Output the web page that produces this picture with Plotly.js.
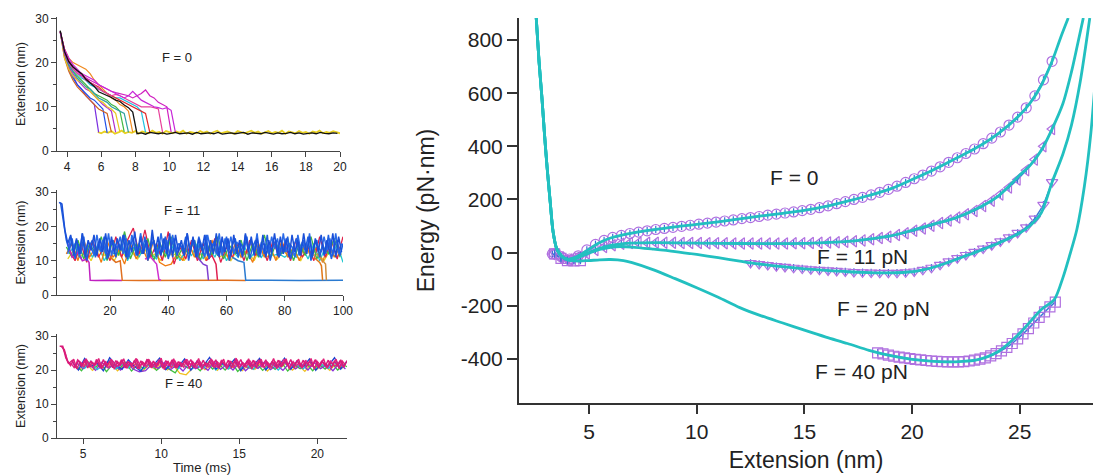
<!DOCTYPE html>
<html><head><meta charset="utf-8">
<script src="https://cdn.plot.ly/plotly-3.0.1.min.js"></script>
<style>html,body{margin:0;padding:0;background:#fff}#chart{width:1093px;height:476px}</style>
</head><body><div id="chart"></div>
<script>
// ---------- helpers (sampling times only) ----------
const seq = (a, d, n) => Array.from({length: n}, (_, i) => Math.round((a + i * d) * 1000) / 1000);

// ---------- Panel A: F = 0 trajectories (t in ms, extension in nm) ----------
const a_black = [27.2,22.5,20.2,19,18.2,17.5,16.2,15.3,14.6,13.4,13,12.6,12.1,11.5,11.2,10.4,9.8,8.8,4.1];
const a_blackBase = [3.9,4.1,3.8,4.2,4.0,3.9,4.1,3.8,4.0,4.2,3.9,4.0,4.1,3.8,4.2,3.9,4.0,4.1,3.9,4.2,3.8,4.0,4.1,3.9,4.0,4.2,3.8,4.1,4.0,3.9,4.2,4.0,3.8,4.1,3.9,4.0,4.2,3.9,4.1,3.8,4.0,4.1,3.9,4.2,4.0,3.9,4.1,4.0];
const a_yellowBase = [4.3,4.0,4.4,4.1,4.5,3.9,4.2,4.6,4.0,4.3,4.1,4.5,3.9,4.4,4.2,4.0,4.6,4.1,4.3,3.9,4.5,4.2,4.0,4.4,4.1,4.6,3.9,4.3,4.2,4.0,4.5,4.1,4.4,3.9,4.3,4.6,4.0,4.2,4.4,4.1,3.9,4.5,4.2,4.0,4.3,4.6,4.1,4.4,3.9,4.2,4.5,4.0,4.3,4.1,4.6,3.9,4.4,4.2,4.0,4.5,4.1,4.3,3.9,4.4,4.2,4.6,4.0,4.3,4.1,4.5,4.2,4.0];
const a_traces = [
  {c:'#7a2ee0', y:[26.8,22,19,17,15,14,12.5,11.5,10.5,4.2]},
  {c:'#2050e8', y:[27,22,18.5,16.5,15,14,13,12,11.5,10.5,9.5,4.1]},
  {c:'#b030d0', y:[27,21.5,19,17.5,16,15,14,13.5,12.5,11.5,10.5,9.8,9,4.2]},
  {c:'#d06020', y:[27,21,18,16,14.5,13.5,12.5,11.5,10.5,9.5,9,8.5,4.2]},
  {c:'#e8c820', y:[27,21,18.5,17,16,15.5,14.5,13.5,12.5,11.5,11,10,9.5,8.5,4.2]},
  {c:'#40b840', y:[27,22,19.5,18,17,16,15,14,13,12.5,12,11.5,10.5,10,9,4.3]},
  {c:'#30a0a0', y:[27,22,19.5,18,16.5,15.5,14.5,14,13,12,11.5,11,10,9.5,9,8.5,4.2]},
  {c:'#f08a20', y:[27,23,21,20,19.5,19,18.5,17.5,16,15,14,13,12,11.5,10.5,10,9,4.2]},
  {c:'#20c0e0', y:[27,22.5,20,18.5,17.5,16.5,16,15,14.5,14,13.5,13,12.5,12,12,11.5,11,10.5,10,9,4.2]},
  {c:'#e02828', y:[27,23,20.5,19,18,17.5,16.5,15.5,15,14.5,13.5,13,12.5,12,11.5,11,10.5,10,9.5,9,8.5,4.2]},
  {c:'#e8409a', y:[27,22.5,20,18.5,17.5,17,16,15.5,15,14,13.5,13,12.5,12.8,12.5,12,11.5,11,10.5,10,10,10,9.8,9.5,4.2]},
  {c:'#d020c0', y:[27,22,20,19,18,17,16.5,16,15.5,15,14.5,14,13.5,13.2,13,12.8,12.5,12,12.5,13,13.8,12.5,12,11,10.5,10,4.3]},
  {c:'#c828d8', y:[27,23,21,19.5,18.5,17.5,17,16.5,16,15,14.5,14,13.5,13,12.5,12,12.5,13.5,12.5,11.5,11,10.5,10,9.8,9.5,9.8,9.2,4.2]}
];

// ---------- Panel B: F = 11 trajectories ----------
const b_blue1 = [27,26.5,19,15,
17.5,11.5,16.5,12,18,11,16,13,17.5,11.5,
16.5,12.5,18,11,17,12,16.5,13,17.5,11,
16,12.5,18.5,11.5,17,12,16,11,19,12.5,
17,11.5,16.5,12,18,11,17.5,12.5,16,11.5,
18,12,17,11,16.5,13,17.5,11.5,16,12,
18,11,17,12.5,16.5,11.5,17.5,12,16,11,
18,12.5,17,11.5,16.5,12,17.5,11,16,12.5,
18,11.5,17,12,16.5,11,17.5,12.5,16,11.5,
18,12,17,11,16.5,12.5,17.5,11.5,16,12,
18,11,17,12.5];
const b_blue2 = [27,22,16,
13,16.5,10.5,15,12,17,10,14.5,16,11,
15.5,12.5,17,10.5,14,16,11,15,13,17.5,
10.5,14.5,16.5,11.5,15,12,17,10,14,16,
11,15.5,12.5,17,10.5,14,16.5,11.5,15,13,
17,10,14.5,16,11,15.5,12,17.5,10.5,14,
16,11.5,15,12.5,17,10,14.5,16.5,11,15,
13,17,10.5,14,16,11.5,15.5,12,17.5,10,
14.5,16,11,15,12.5,17,10.5,14,16.5,11.5,
15.5,13,17,10,14.5,16,11,15,12,17.5,
10.5,14,16,11.5,15];
const b_blue3 = [12,17,13.5,16,11,18,12.5,15.5,14,11.5,
17.5,13,16,12,18,11.5,15,13.5,17,12,
16.5,11,17.5,14,12.5,18,13,15.5,11.5,17,
14.5,12,18,13,16,11.5,17.5,12.5,15,14,
11.5,18,13,16.5,12,17,14,11,17.5,13.5,
15,12,18,11.5,16.5,13,17,12,15.5,14,
11.5,17.5,13,16,12.5,18,11,15,14.5,12,
17,13.5,16.5,11.5,18,12.5,15,14,11,17.5,
13,16,12,18,11.5,15.5,14,12.5,17,13,
16.5,11.5,18,12,15];
const b_green = [14,11,16,10.5,15,12,17,10,16,11.5,18.5,10.5,15,12,16.5,10,15.5,11,17,10.5,14,12,16,10,15.5,11.5,17,10.5,14.5,12,16,10,15,11,17.5,10.5,15,12,16.5,10,15,11.5,17,10.5,14,12,16.5,11];
const b_red = [13,10,15,9.5,16,11,14,10,17,11,16,19.5,12,19,11,15,10,18.5,9,14,10.5,16,10,15,11,16.5,9.5,14,11,15,10,16,11.5,14.5,10,16,11,15,10,16.5,11,14,10,17,11,16,10.5,17];
const b_orange = [12,15,10,16,11,14,9.5,16,11,13,9,15,10.5,14,10,16,9.5,8.5,9,12,10,15,11,14,10,16,11.5,14,10,15,11,13,9.5,15,11,14,10,16,11,14,10,15,11,14,9.5,15,11,14];
const b_cyan = [12,15,10.5,14,11,15,10,13,11.5,15,10,14,11,15,12,10.5,14,11,15,10,13,11.5,15,10.5,14,11,15,10,13,11,14.5,10.5,13,11,14,11.5,12,11,12.5,11,14,10.5,15,10,14,11,15,9.5];
const b_yellow = [10.5,13,11,12.5,10,14,11.5,12,10,13.5,11,12.5,10.5,14,11,12,10,13,11.5,12.5,10,14,11,12,10.5,13.5,11,12,10,13,11.5,12.5,10,14,11,12,10.5,13,11,12,10,13.5,11.5,12,10,13,11,12];
const b_drops = [
  {c:'#c020c0', x:[5.5,7,9,10.5,12,12.8,13.2,15,20,24.2], y:[15,11,12.5,10,10.5,9.5,4.3,4.2,4.3,4.2]},
  {c:'#e07020', x:[20,22,23.5,24.2,30,40,50,60,66.6], y:[11,9.5,10,4.3,4.2,4.3,4.2,4.3,4.2]},
  {c:'#d030d0', x:[32,34,36,36.8,37.5], y:[10.5,11,9,4.5,4.3]},
  {c:'#8040d0', x:[50,52,53.3,53.8], y:[11,9,8.5,4.3]},
  {c:'#e02050', x:[53,55,56.4,56.9], y:[10,11.5,9,4.3]},
  {c:'#2a7ad0', x:[62,64,66,66.6,75,85,100], y:[11,10,9.5,4.3,4.3,4.2,4.3]},
  {c:'#e07818', x:[90,92,92.6,93], y:[11,9.5,8.5,4.3]},
  {c:'#d09040', x:[91,93,94,94.3], y:[12,10,9,4.3]}
];

// ---------- Panel C: F = 40 trajectories ----------
const c_mag1 = [27,27,23.5,22,22.8,20.8,22.9,21,23,20.6,22.7,21.2,22.9,20.5,23.1,21,22.6,20.7,22.8,21.3,23,20.6,22.5,21,22.9,20.4,22.7,21.1,23.2,20.8,22.6,21,22.9,20.5,22.8,21.2,23,20.7,22.5,20.9,22.8,21.3,23.1,20.6,22.7,21,22.9,20.8,22.6,21.2,23,20.5,22.8,21.1,22.9,20.7,22.6,21.3,23.1,20.8,22.7,21,22.9,20.6,22.8,21.2,23,20.7,22.5,21,22.9,20.9,22.7,21.2,23.1,20.6,22.8,21,22.9,20.8,22.6,21.3,23,20.7,22.8,21.1,22.9,20.6,22.7,21.2,23,20.8,22.8];
const c_mag2 = [27,26,22.5,21.3,23.2,20.3,22.4,21.6,23.3,20.9,22.2,21.5,23.4,20.4,22.3,21.7,23.2,20.2,22.5,21.4,23.3,20.5,22.1,21.8,23.4,20.3,22.4,21.6,23.2,20.6,22.2,21.5,23.5,20.1,22.6,21.4,23.3,20.5,22.3,21.7,23.2,20.4,22.5,21.5,23.4,20.2,22.1,21.8,23.3,20.6,22.4,21.4,23.2,20.3,22.6,21.6,23.5,20.5,22.2,21.5,23.3,20.2,22.5,21.7,23.2,20.6,22.3,21.4,23.4,20.4,22.6,21.5,23.3,20.3,22.2,21.8,23.2,20.5,22.4,21.6,23.4,20.2,22.5,21.4,23.3,20.6,22.3,21.7,23.2,20.4,22.6,21.5];
const c_mag3 = [27,25,22,21.8,20.6,23,21.9,20.9,22.7,21.4,
20.7,23.1,21.8,21,22.6,20.5,22.9,21.6,21.1,23,
20.8,22.4,21.9,20.6,23.2,21.3,22.1,20.9,22.8,21.5,
20.7,23,21.8,21.2,22.5,20.6,22.9,21.4,21.9,20.8,
23.1,21.6,22.2,20.5,22.7,21.3,21.9,20.9,23,21.5,
20.7,22.8,21.7,21.1,22.6,20.6,23.1,21.4,22,20.9,
22.9,21.6,21.2,23,20.8,22.3,21.8,20.6,22.7,21.5,
21,23.2,21.7,20.9,22.5,21.3,22.1,20.7,22.9,21.6,
21.1,23,20.8,22.4,21.9,20.6,22.8,21.4,21.2,22.7,
20.9];
const c_blue = [22.5,20,23.4,21,22,19.8,23.6,21.5,20.2,23,21,19.6,22.8,21.4,23.5,20.1,22.2,21,23.3,19.9,22.6,21.2,23.7,20.3,22,21,23.2,19.8,22.5,21.3,23.4,20,22.3,21.1,23.5,20.2,22.7,21,23.3,19.9,22.4,21.2,23.6,20.3,22.6];
const c_green = [21.5,19.8,22.5,20.5,22,19.5,21.8,20.3,22.3,19.7,21.6,20.4,22.1,19.9,21.4,20.2,19.2,22,20.6,21.5,19.8,22.2,20.3,21.7,20,22.4,19.6,21.3,20.5,22,19.9,21.6,20.2,22.3,19.7,21.5,20.4,22,19.8,21.7,20.3,22.2,20,21.4,20.6];
const c_yellow = [21,20.2,22,19.9,21.5,20.5,22.2,19.8,21.3,20.6,22,19.7,21.4,20.3,21.9,20,21.2,19,18.6,20.5,21.8,20.1,21.5,19.9,22,20.4,21.3,19.8,21.7,20.2,22.1,19.7,21.4,20.5,21.9,20,21.3,19.6,21.8,20.3,21.5,19.9,22,20.4];
const c_purple = [22,20.4,21.6,19.9,22.3,20.6,21.4,20,22.1,20.3,19.5,19.8,21.7,20.5,22.2,20.1,21.5,19.7,22,20.4,21.3,19.9,22.4,20.2,21.6,20,22.1,19.8,21.5,20.5,22.3,20.1,21.4,19.9,22,20.3,21.7,20,22.2,20.4,21.5,19.8,22,20.3];
const c_cyan = [21.8,20.5,22.6,20.1,21.4,22.9,20.3,21.7,20.6,22.4,20,21.5,20.8,22.2,20.2,21.6,20.4,22.7,20.1,21.3,20.6,22.5,20,21.8,20.3,22.3,20.5,21.4,20.2,22.6,20.4,21.7,20,22.1,20.6,21.5,20.3,22.4,20.1,21.6,20.5,22.2,20.2];

// ---------- Panel D: energy landscapes (extension nm, energy pN·nm) ----------
const fit0X  = [2.55,2.68,2.82,2.93,3.05,3.2,3.33,3.5,3.75,4.0,4.3,4.7,5.1,5.5,6,7.1,8,9,10,11,12,13,14,15,16,17,18,19,20,21,22,23,24,25,25.5,26,26.5,26.9,27.25];
const fit0Y  = [883,720,577,450,325,190,80,15,-15,-25,-20,-3,18,38,55,75,86,97,106,116,127,138,148,159,174,194,215,240,275,312,353,395,448,518,565,630,720,810,883];
const fit11X = [2.55,2.68,2.82,2.93,3.05,3.2,3.33,3.5,3.75,4.0,4.3,4.7,5.1,5.5,6,6.7,7.5,9,11,13,15,16,17,18,19,20,21,22,23,24,25,25.5,26,26.5,27,27.4,27.7,27.95];
const fit11Y = [883,720,577,450,325,190,80,15,-15,-25,-24,-10,4,16,27,35,37,37,35,34,35,38,42,51,63,84,107,130,165,213,292,330,385,465,560,680,790,883];
const fit20X = [2.55,2.68,2.82,2.93,3.05,3.2,3.33,3.5,3.75,4.0,4.5,5,5.5,6,6.5,7,8,9,10,11,12,12.5,13.3,14.1,15,16,17,18,19,20,20.5,21,21.5,22,22.5,23,24,25,25.5,26,26.5,27,27.4,27.8,28.25];
const fit20Y = [883,720,577,450,325,190,80,15,-15,-25,-18,-2,12,20,23,21,13,4,-7,-19,-32,-39,-47,-54,-61,-67,-72,-75,-76,-72,-65,-55,-42,-27,-12,3,35,74,103,150,265,370,480,640,883];
const fit40X = [2.55,2.68,2.82,2.93,3.05,3.2,3.33,3.5,3.75,4.0,4.5,5,5.5,6,6.6,7,8,9,10,11,12,13,14,15,16,17,18,19,20,21,22,23,24,25,26,26.6,27,27.3,27.65,28,28.3,28.6];
const fit40Y = [883,720,577,450,325,190,80,15,-15,-28,-32,-30,-27,-26,-30,-38,-65,-98,-132,-168,-207,-238,-265,-292,-318,-342,-368,-388,-402,-409,-411,-404,-372,-303,-214,-177,-95,-15,87,250,450,750];

const data0  = [-5,-15,-24,-12,10,31,46,57,65,72,77,82,87,91,95,99,103,107,111,115,119,123,128,132,136,141,145,149,153,158,163,169,176,184,192,200,208,217,227,238,250,264,278,292,307,323,340,357,373,390,410,431,454,480,510,545,590,650,720];
const data11 = [-5,-18,-26,-18,-3,10,21,28,33,36,37,37,37,37,37,36,36,36,35,35,35,34,34,34,34,34,34,34,35,35,36,37,38,39,41,43,46,50,55,60,66,73,82,91,101,111,121,132,144,157,175,195,219,245,275,310,350,400,465];
const data20 = [-39,-43,-47,-51,-54,-57,-60,-63,-65,-67,-69,-71,-73,-74,-75,-76,-76,-76,-74,-71,-65,-57,-46,-33,-21,-9,3,15,28,42,57,74,95,128,180,265];
const data40 = [-377,-381,-386,-390,-393,-396,-399,-402,-404,-406,-408,-409,-410,-411,-411,-411,-410,-408,-405,-401,-396,-389,-380,-370,-357,-342,-325,-306,-286,-265,-244,-223,-204,-186];
const minClusterX = [3.4,3.7,4.0,4.3,4.6];
const min20 = [0,-20,-27,-22,-12];
const min40 = [-5,-22,-30,-31,-30];

// ---------- build traces ----------
const traces = [];
function line(x, y, color, w, xa, ya) {
  traces.push({x, y, type:'scatter', mode:'lines', line:{color, width:w}, xaxis:xa, yaxis:ya, hoverinfo:'skip', showlegend:false});
}
// panel A
line(seq(5.8,0.2,a_yellowBase.length), a_yellowBase, '#e8d020', 1.8, 'x', 'y');
a_traces.forEach(t => line(seq(3.6,0.25,t.y.length), t.y, t.c, 1.2, 'x', 'y'));
line(seq(3.6,0.25,a_black.length).concat(seq(8.1,0.25,a_blackBase.length)), a_black.concat(a_blackBase), '#111111', 1.3, 'x', 'y');
// panel B
line(seq(5.5,2,b_yellow.length), b_yellow, '#e8d020', 1.3, 'x2', 'y2');
line(seq(6,2,b_cyan.length), b_cyan, '#20c8d0', 1.3, 'x2', 'y2');
line(seq(5,2,b_orange.length), b_orange, '#f07a10', 1.3, 'x2', 'y2');
line(seq(6,2,b_red.length), b_red, '#e0204a', 1.3, 'x2', 'y2');
line(seq(5,2,b_green.length), b_green, '#40b840', 1.3, 'x2', 'y2');
b_drops.forEach(t => line(t.x, t.y, t.c, 1.5, 'x2', 'y2'));
line(seq(5.5,1,b_blue3.length), b_blue3, '#2a6ae8', 1.5, 'x2', 'y2');
line(seq(3,1,b_blue2.length), b_blue2, '#1f5fe0', 1.5, 'x2', 'y2');
line(seq(2.5,1,b_blue1.length), b_blue1, '#1a50d8', 1.5, 'x2', 'y2');
// panel C
line(seq(4.4,0.4,c_yellow.length), c_yellow, '#f0c020', 1.3, 'x3', 'y3');
line(seq(4.5,0.4,c_green.length), c_green, '#40c040', 1.3, 'x3', 'y3');
line(seq(4.6,0.4,c_purple.length), c_purple, '#8a30d8', 1.3, 'x3', 'y3');
line(seq(4.7,0.4,c_cyan.length), c_cyan, '#20c0e0', 1.3, 'x3', 'y3');
line(seq(4.3,0.4,c_blue.length), c_blue, '#2040d0', 1.3, 'x3', 'y3');
line(seq(3.65,0.2,c_mag3.length), c_mag3, '#e0288a', 1.4, 'x3', 'y3');
line(seq(3.6,0.2,c_mag2.length), c_mag2, '#e0207a', 1.4, 'x3', 'y3');
line(seq(3.5,0.2,c_mag1.length), c_mag1, '#d81b7a', 1.4, 'x3', 'y3');

// panel D
const violet = '#b070e0', eb = '#3a6fd8';
function markers(x, y, sym) {
  traces.push({x, y, type:'scatter', mode:'lines+markers', xaxis:'x4', yaxis:'y4', hoverinfo:'skip', showlegend:false,
    line:{color:'#3a7bd5', width:1.5},
    marker:{symbol:sym, size:10, color:violet, line:{color:violet, width:1.2}},
    error_y:{type:'constant', value:14, color:eb, thickness:1.2, width:0}});
}
markers(seq(3.3,0.4,data0.length), data0, 'circle-open');
markers(seq(3.3,0.4,data11.length), data11, 'triangle-left-open');
markers(seq(12.5,0.4,data20.length), data20, 'triangle-down-open');
markers(minClusterX, min20, 'triangle-down-open');
markers(seq(18.4,0.25,data40.length), data40, 'square-open');
markers(minClusterX, min40, 'square-open');
[[fit0X,fit0Y],[fit11X,fit11Y],[fit20X,fit20Y],[fit40X,fit40Y]].forEach(([x,y]) => {
  traces.push({x, y, type:'scatter', mode:'lines', xaxis:'x4', yaxis:'y4', hoverinfo:'skip', showlegend:false,
    line:{color:'#22c0c0', width:2.8, shape:'spline', smoothing:0.8}});
});

// ---------- layout ----------
const W = 1093, H = 476;
const px = v => v / W, py = v => 1 - v / H;
const FONT = 'Liberation Sans, Arial, sans-serif';
const small = {family: FONT, size: 12, color: '#222'};
function leftX(dom, range, ticks, anchor, title) {
  const o = {domain: dom, range, anchor, tickvals: ticks, ticks:'outside', ticklen:5, tickwidth:1, tickcolor:'#444',
    showline:true, linecolor:'#444', linewidth:1, showgrid:false, zeroline:false, tickfont: small, fixedrange:true};
  if (title) o.title = {text: title, font:{family: FONT, size: 13, color:'#222'}, standoff: 2};
  return o;
}
function leftY(dom, range, anchor) {
  return {domain: dom, range, anchor, tickvals:[0,10,20,30], ticks:'outside', ticklen:5, tickwidth:1, tickcolor:'#444',
    minor:{tickvals:[5,15,25], ticks:'outside', ticklen:3, tickcolor:'#444'},
    showline:true, linecolor:'#444', linewidth:1, showgrid:false, zeroline:false, tickfont: small, fixedrange:true,
    title:{text:'Extension (nm)', font:{family: FONT, size: 12.5, color:'#222'}, standoff: 6}};
}
const big = {family: FONT, size: 21, color: '#222'};
const layout = {
  width: W, height: H, margin:{l:0, r:0, t:0, b:0}, paper_bgcolor:'#fff', plot_bgcolor:'rgba(0,0,0,0)',
  showlegend:false,
  xaxis:  leftX([px(57), px(340)], [3.41, 20], [4,6,8,10,12,14,16,18,20], 'y'),
  yaxis:  leftY([py(151), py(17)], [0, 30.3], 'x'),
  xaxis2: leftX([px(57), px(343)], [1.8, 100], [20,40,60,80,100], 'y2'),
  yaxis2: leftY([py(295), py(190)], [0, 30.6], 'x2'),
  xaxis3: leftX([px(57), px(347)], [3.33, 21.9], [5,10,15,20], 'y3', 'Time (ms)'),
  yaxis3: leftY([py(438), py(334)], [0, 30.6], 'x3'),
  xaxis4: {domain:[px(519), 1], range:[1.75, 28.4], anchor:'y4', tickvals:[5,10,15,20,25], ticks:'outside', ticklen:9, tickwidth:2,
    tickcolor:'#333', showline:true, linecolor:'#333', linewidth:2, showgrid:false, zeroline:false, tickfont: big, fixedrange:true,
    title:{text:'Extension (nm)', font:{family: FONT, size: 23, color:'#222'}, standoff: 10}},
  yaxis4: {domain:[py(403), py(18)], range:[-566, 883], anchor:'x4', tickvals:[-400,-200,0,200,400,600,800],
    ticktext:['-400','-200','0','200','400','600','800'], ticks:'outside', ticklen:10, tickwidth:2,
    tickcolor:'#333', showline:true, linecolor:'#333', linewidth:2, showgrid:false, zeroline:false, tickfont: big, fixedrange:true,
    title:{text:'Energy (pN·nm)', font:{family: FONT, size: 23, color:'#222'}, standoff: 20}},
  annotations: [
    {text:'F = 0', x:px(160), y:py(48), xref:'paper', yref:'paper', showarrow:false, font:{family:FONT, size:13, color:'#222'}},
    {text:'F = 11', x:px(162), y:py(210), xref:'paper', yref:'paper', showarrow:false, font:{family:FONT, size:13, color:'#222'}},
    {text:'F = 40', x:px(163), y:py(393), xref:'paper', yref:'paper', showarrow:false, font:{family:FONT, size:13, color:'#222'}},
    {text:'F = 0', x:px(820), y:py(177), xref:'paper', yref:'paper', showarrow:false, font:big},
    {text:'F = 11 pN', x:px(910), y:py(256), xref:'paper', yref:'paper', showarrow:false, font:big},
    {text:'F = 20 pN', x:px(932), y:py(308), xref:'paper', yref:'paper', showarrow:false, font:big},
    {text:'F = 40 pN', x:px(910), y:py(385), xref:'paper', yref:'paper', showarrow:false, font:big}
  ]
};
Plotly.newPlot('chart', traces, layout, {displayModeBar:false, staticPlot:true});
</script>
</body></html>
